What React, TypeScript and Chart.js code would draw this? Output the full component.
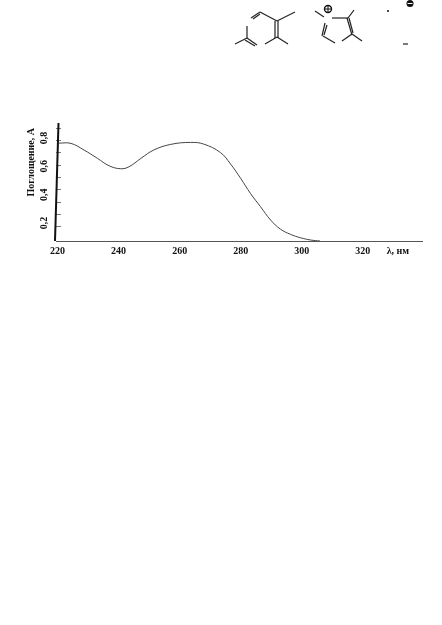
import React, { useEffect, useRef } from "react";
import { Chart, registerables } from "chart.js";

Chart.register(...registerables);

const wavelengths = [220.5, 224.4, 228.7, 233.1, 236.9, 240.7, 243.4, 247.3, 251.5, 257.1, 263.6, 267.9, 273.4, 276.7, 280, 283.2, 286.5, 289.8, 293, 296.3, 299.6, 302.9, 306];
const absorbance = [0.764, 0.762, 0.715, 0.656, 0.604, 0.583, 0.597, 0.656, 0.715, 0.755, 0.769, 0.757, 0.697, 0.616, 0.515, 0.409, 0.315, 0.221, 0.157, 0.12, 0.096, 0.08, 0.073];
const xTickValues = [220, 240, 260, 280, 300, 320];
const yLabelTicks = [0.2, 0.4, 0.6, 0.8];
const yMarkTicks = [0.172, 0.263, 0.347, 0.439, 0.524, 0.609, 0.7, 0.785, 0.87];
const xAxisUnitPosition = 331.5;
const xAxisUnit = "λ, нм";
const yAxisTitle = "Поглощение, А\u00A0\u00A0";

const FONT = "'Liberation Serif'";

const tiltedAxis = {
  id: "tiltedAxis",
  afterDraw(chart: any) {
    const { ctx, chartArea: a } = chart;
    ctx.save();
    ctx.strokeStyle = "#111";
    ctx.lineWidth = 2;
    ctx.beginPath();
    ctx.moveTo(a.left + 2.5, a.top);
    ctx.lineTo(a.left - 1, a.bottom);
    ctx.stroke();
    ctx.restore();
  },
};

const bonds = [
  [251, 18, 260, 12], [253, 19, 260, 14], [260, 12, 277, 21], [277, 21, 295, 12],
  [275, 21, 275, 38], [278, 21, 278, 38], [277, 37, 265, 44], [277, 37, 288, 44],
  [247, 26, 247, 38], [247, 38, 235, 44], [247, 38, 257, 45], [245, 40, 255, 46],
  [315, 11, 324, 17], [332, 18, 348, 18], [348, 18, 354, 10], [347, 18, 352, 35],
  [349, 18, 353, 33], [352, 34, 362, 41], [352, 34, 342, 41], [325, 23, 322, 36],
  [327, 25, 324, 35], [323, 36, 335, 43], [403, 44, 408, 44],
];

export default function App() {
  const ref = useRef<HTMLCanvasElement>(null);
  useEffect(() => {
    const chart = new Chart(ref.current!, {
      type: "line",
      data: {
        datasets: [{
          data: wavelengths.map((x, i) => ({ x, y: absorbance[i] })),
          borderColor: "#444",
          borderWidth: 1,
          pointRadius: 0,
          tension: 0.4,
        }],
      },
      plugins: [tiltedAxis],
      options: {
        animation: false,
        responsive: false,
        layout: { padding: { left: 25, right: 20, top: 123, bottom: 364 } },
        plugins: { legend: { display: false }, tooltip: { enabled: false } },
        scales: {
          x: {
            type: "linear",
            min: 219.5,
            max: 339.4,
            afterBuildTicks: (s: any) => {
              s.ticks = [...xTickValues, xAxisUnitPosition].map((value) => ({ value }));
            },
            afterFit: (s: any) => { s.height = 20; },
            border: { display: true, color: "#555", width: 1 },
            grid: { drawOnChartArea: false, tickLength: 0 },
            ticks: {
              autoSkip: false,
              maxRotation: 0,
              minRotation: 0,
              padding: 4,
              color: "#111",
              font: { family: FONT, size: 10, weight: "bold" },
              callback: (v: any) => (v === xAxisUnitPosition ? xAxisUnit : String(v)),
            },
          },
          y: {
            min: 0.073,
            max: 0.906,
            afterBuildTicks: (s: any) => {
              s.ticks = [...yLabelTicks, ...yMarkTicks].sort((a, b) => a - b).map((value) => ({ value }));
            },
            afterFit: (s: any) => { s.width = 31; },
            border: { display: false },
            grid: {
              drawOnChartArea: false,
              drawTicks: true,
              tickLength: -5,
              color: (c: any) => (c.tick && yLabelTicks.includes(c.tick.value) ? "rgba(0,0,0,0)" : "#777"),
            },
            title: {
              display: true,
              text: yAxisTitle,
              align: "end",
              color: "#111",
              font: { family: FONT, size: 10, weight: "bold" },
              padding: 0,
            },
            ticks: {
              autoSkip: false,
              minRotation: 90,
              maxRotation: 90,
              crossAlign: "center",
              padding: 10,
              color: "#111",
              font: { family: FONT, size: 10, weight: "bold" },
              callback: (v: any) => (yLabelTicks.includes(v) ? String(v).replace(".", ",") : ""),
            },
          },
        },
      },
    } as any);
    return () => chart.destroy();
  }, []);
  return (
    <div style={{ position: "absolute", left: 0, top: 0, width: 442, height: 625, background: "#fff" }}>
      <canvas ref={ref} width={442} height={625} style={{ position: "absolute", left: 0, top: 0, display: "block" }} />
      <svg width={442} height={60} style={{ position: "absolute", left: 0, top: 0 }}>
        {bonds.map(([x1, y1, x2, y2], i) => (
          <line key={i} x1={x1} y1={y1} x2={x2} y2={y2} stroke="#222" strokeWidth={1.2} />
        ))}
        <circle cx={328} cy={9} r={3.5} fill="none" stroke="#111" strokeWidth={1.4} />
        <line x1={325} y1={9} x2={331} y2={9} stroke="#111" strokeWidth={1} />
        <line x1={328} y1={6} x2={328} y2={12} stroke="#111" strokeWidth={1} />
        <circle cx={410} cy={3.5} r={3.5} fill="#111" />
        <line x1={407.5} y1={3.5} x2={412.5} y2={3.5} stroke="#fff" strokeWidth={1} />
        <circle cx={388} cy={11} r={1} fill="#111" />
      </svg>
    </div>
  );
}
